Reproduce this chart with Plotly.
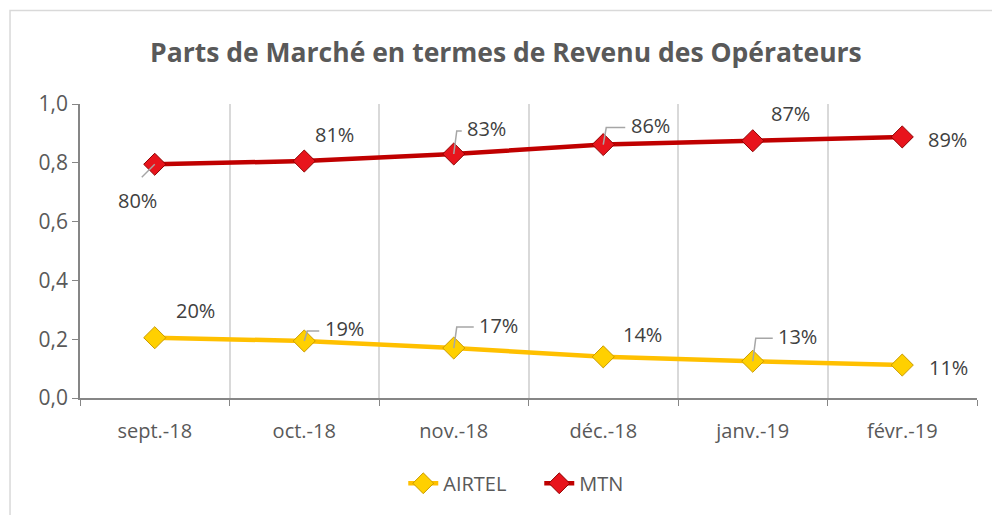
import plotly.graph_objects as go

months = ["sept.-18", "oct.-18", "nov.-18", "déc.-18", "janv.-19", "févr.-19"]
airtel = [0.205, 0.194, 0.170, 0.140, 0.125, 0.112]
mtn = [0.795, 0.806, 0.830, 0.862, 0.875, 0.888]
airtel_labels = ["20%", "19%", "17%", "14%", "13%", "11%"]
mtn_labels = ["80%", "81%", "83%", "86%", "87%", "89%"]
y_ticks = [0.0, 0.2, 0.4, 0.6, 0.8, 1.0]

# label offsets in pixels (dx, dy; dy positive = down) and leader-line flags
airtel_off = [(41, -27), (40, -12), (45, -23), (39, -22), (45, -25), (46, 2)]
mtn_off = [(-17, 36), (30, -27), (33, -25), (47, -19), (38, -27), (45, 3)]
airtel_leader = [False, True, True, False, True, False]
mtn_leader = [True, False, True, True, False, False]

TXT = "#404040"
AX = "#595959"
FONT = "Open Sans, sans-serif"

fig = go.Figure()
fig.add_trace(go.Scatter(
    x=months, y=airtel, name="AIRTEL", mode="lines+markers",
    line=dict(color="#FFC000", width=4.5),
    marker=dict(symbol="diamond", size=17, color="#FFD000",
                line=dict(color="#C99A00", width=1)),
))
fig.add_trace(go.Scatter(
    x=months, y=mtn, name="MTN", mode="lines+markers",
    line=dict(color="#C00000", width=4.5),
    marker=dict(symbol="diamond", size=17, color="#E8141C",
                line=dict(color="#8E0000", width=1)),
))

annotations = []
shapes = []
for vals, labels, offs, leads in [(airtel, airtel_labels, airtel_off, airtel_leader),
                                  (mtn, mtn_labels, mtn_off, mtn_leader)]:
    for i, (v, lab, (dx, dy), lead) in enumerate(zip(vals, labels, offs, leads)):
        annotations.append(dict(
            x=months[i], y=v, xref="x", yref="y", text=lab, showarrow=False,
            xshift=dx, yshift=-dy, font=dict(family=FONT, size=20, color=TXT),
        ))
        if lead:
            if dy > 0:
                path = "M0,0 L-13,-13"
            else:
                path = "M0,0 L3,%d L%d,%d" % (-dy - 2, dx - 25, -dy - 2)
            shapes.append(dict(
                type="path", xref="x", yref="y", xsizemode="pixel", ysizemode="pixel",
                xanchor=months[i], yanchor=v, path=path,
                line=dict(color="#A6A6A6", width=1.5), layer="above",
            ))

# chart outer border
shapes.append(dict(type="rect", xref="paper", yref="paper",
                   x0=-0.078, x1=1.05, y0=-0.5, y1=1.318,
                   line=dict(color="#D9D9D9", width=1.5), layer="below"))

fig.update_layout(
    width=992, height=515,
    margin=dict(l=80, r=15, t=104, b=115),
    paper_bgcolor="white", plot_bgcolor="white",
    separators=", ",
    font=dict(family=FONT, color=AX),
    title=dict(text="<b>Parts de Marché en termes de Revenu des Opérateurs</b>",
               x=0.51, xanchor="center", y=1 - 53 / 515, yanchor="middle",
               font=dict(family=FONT, size=26.5, color=AX)),
    xaxis=dict(type="category", tickson="boundaries", ticks="outside", ticklen=6,
               tickcolor="#868686", showline=True, linecolor="#868686", linewidth=1.5,
               showgrid=True, gridcolor="#D9D9D9", gridwidth=1.5,
               ticklabelstandoff=14,
               tickfont=dict(family=FONT, size=20, color=AX), range=[-0.5, 5.5]),
    yaxis=dict(range=[0, 1.0], tickvals=y_ticks, tickformat=".1f",
               ticks="outside", ticklen=6, tickcolor="#868686",
               showline=True, linecolor="#868686", linewidth=1.5,
               showgrid=False, zeroline=False,
               tickfont=dict(family=FONT, size=21, color=AX)),
    legend=dict(orientation="h", x=0.512, xanchor="center", y=-0.29, yanchor="middle",
                entrywidth=91, entrywidthmode="pixels",
                font=dict(family=FONT, size=20, color=AX)),
    annotations=annotations, shapes=shapes,
)

fig.write_html("out.html", post_script="document.body.style.margin='0';",
               config={"displayModeBar": False})
